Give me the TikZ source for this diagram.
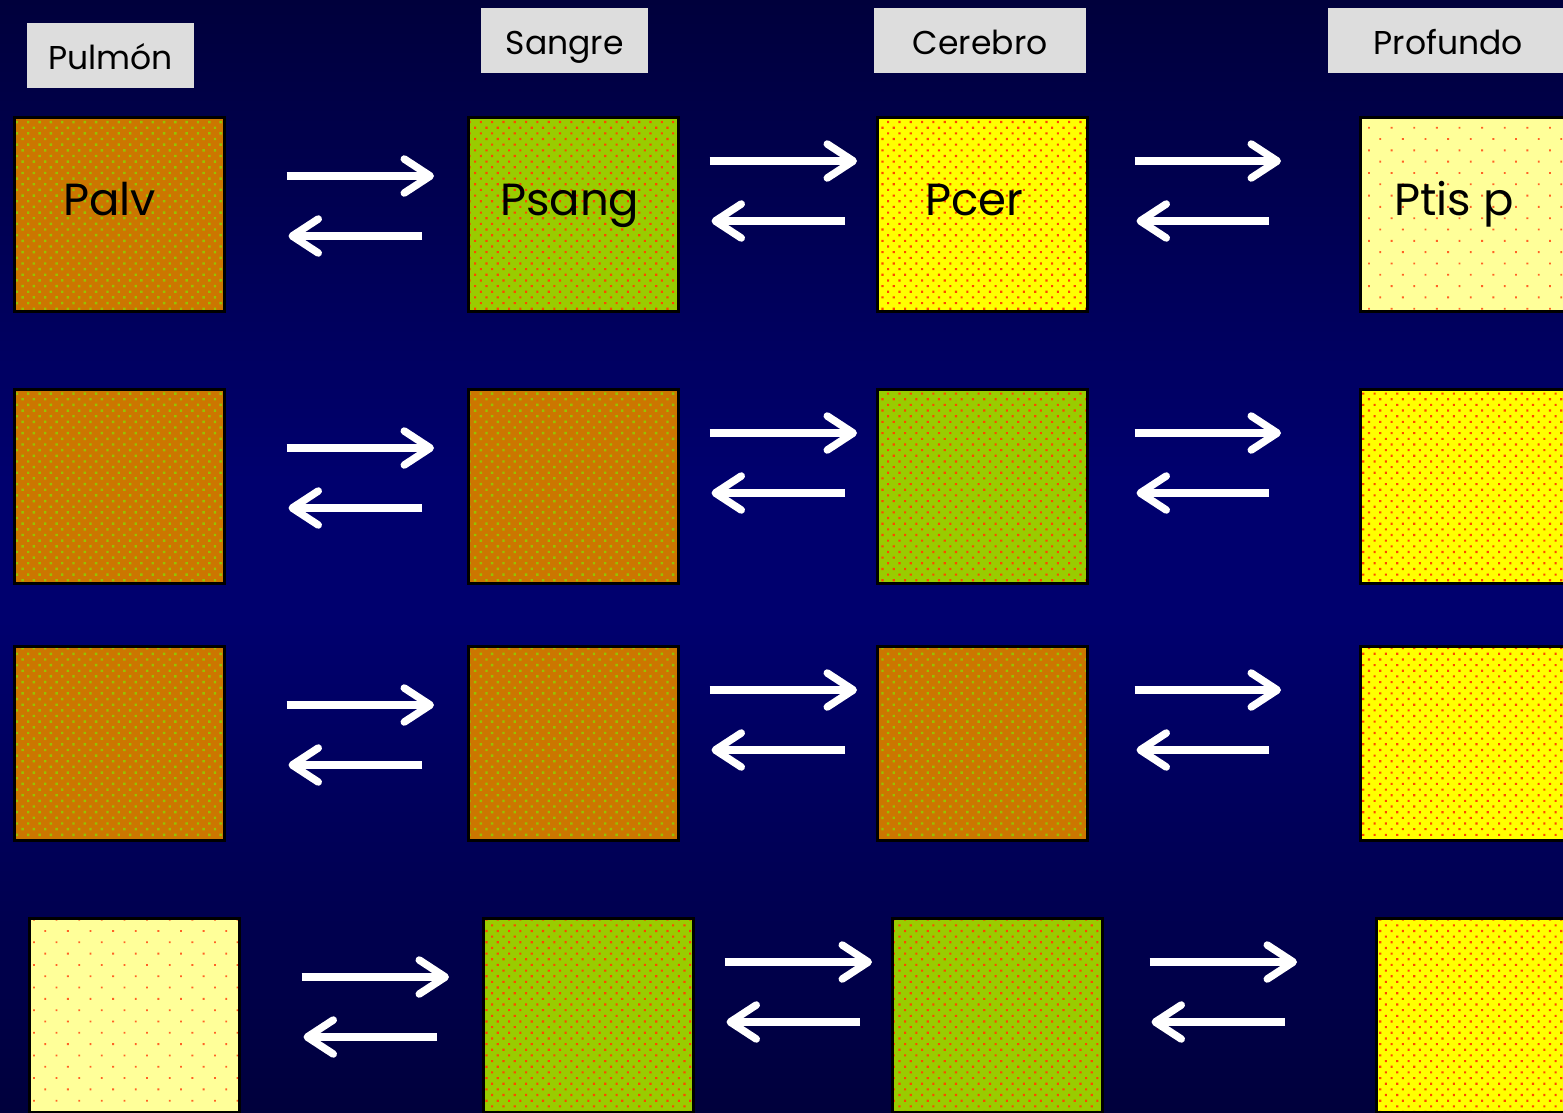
\documentclass[tikz,border=0pt]{standalone}
\usepackage{fontspec}
\setmainfont{Poppins}
\usetikzlibrary{patterns.meta,arrows.meta,calc}

\definecolor{bgdark}{RGB}{0,0,60}
\definecolor{bgmid}{RGB}{0,0,110}
\definecolor{ochre}{RGB}{204,118,0}
\definecolor{lime}{RGB}{153,204,0}
\definecolor{limedot}{RGB}{150,195,0}
\definecolor{reddot}{RGB}{255,70,0}
\definecolor{sun}{RGB}{255,255,0}
\definecolor{cream}{RGB}{255,255,153}
\definecolor{hdrgray}{RGB}{221,221,221}

\tikzset{
  cell/.style={draw=black, line width=2.5pt, minimum width=210pt, minimum height=194pt,
               inner sep=0pt, anchor=north west},
  orangecell/.style={cell, preaction={fill=ochre},
               pattern={Dots[distance=8pt,radius=1.7pt,angle=45]}, pattern color=limedot},
  greencell/.style={cell, preaction={fill=lime},
               pattern={Dots[distance=8pt,radius=1.5pt,angle=45]}, pattern color=reddot},
  yellowcell/.style={cell, preaction={fill=sun},
               pattern={Dots[distance=8pt,radius=1.5pt,angle=45]}, pattern color=reddot},
  creamcell/.style={cell, preaction={fill=cream},
               pattern={Dots[distance=16pt,radius=1.3pt,angle=45]}, pattern color=reddot!85},
  celltext/.style={anchor=base west, inner sep=0pt, font=\fontsize{45}{50}\selectfont, text=black},
  hdr/.style={fill=hdrgray, anchor=north west, inner sep=0pt, minimum height=65pt,
              text height=32pt, text depth=4pt,
              font=\fontsize{33}{38}\selectfont, text=black},
  fwd/.style={white, line width=7.5pt, -{Straight Barb[length=26pt,width=34pt,round]}},
}

\begin{document}
\begin{tikzpicture}[x=1pt,y=-1pt]
  % page frame and backdrop: dark at the edges, brighter blue in the middle band
  \useasboundingbox (0,0) rectangle (1563,1112);
  \clip (0,0) rectangle (1563,1112);
  \shade[top color=bgdark, bottom color=bgmid] (0,0) rectangle (1563,480);
  \fill[bgmid] (0,479) rectangle (1563,621);
  \shade[top color=bgmid, bottom color=bgdark] (0,620) rectangle (1563,1112);

  % column headers
  \node[hdr, minimum width=167pt] (hpul) at (27,23) {Pulmón};
  \node[hdr, minimum width=167pt] (hsan) at (481,8) {Sangre};
  \node[hdr, minimum width=212pt] (hcer) at (874,8) {Cerebro};
  \node[hdr, minimum width=240pt] (hpro) at (1328,8) {Profundo};

  % row 1
  \node[orangecell] (a1) at (13,116) {};
  \node[greencell]  (b1) at (467,116) {};
  \node[yellowcell] (c1) at (876,116) {};
  \node[creamcell]  (d1) at (1359,116) {};
  \node[celltext] (palv)  at ($(a1.north west)+(50,99)$) {Palv};
  \node[celltext] (psang) at ($(b1.north west)+(33,99)$) {Psang};
  \node[celltext] (pcer)  at ($(c1.north west)+(49,99)$) {Pcer};
  \node[celltext] (ptis)  at ($(d1.north west)+(35,99)$) {Ptis p};

  % row 2
  \node[orangecell] (a2) at (13,388) {};
  \node[orangecell] (b2) at (467,388) {};
  \node[greencell]  (c2) at (876,388) {};
  \node[yellowcell] (d2) at (1359,388) {};

  % row 3
  \node[orangecell] (a3) at (13,645) {};
  \node[orangecell] (b3) at (467,645) {};
  \node[orangecell] (c3) at (876,645) {};
  \node[yellowcell] (d3) at (1359,645) {};

  % row 4
  \node[creamcell]  (a4) at (28,917) {};
  \node[greencell]  (b4) at (482,917) {};
  \node[greencell]  (c4) at (891,917) {};
  \node[yellowcell] (d4) at (1375,917) {};

  % exchange arrows between neighbouring compartments
  \foreach \r in {1,2,3,4}{
    \draw[fwd] ($(a\r.north east)+(61,60)$) -- ($(b\r.north west)+(-33,60)$);
    \draw[fwd] ($(b\r.north west)+(-45,120)$) -- ($(a\r.north east)+(63,120)$);
    \draw[fwd] ($(b\r.north east)+(30,45)$) -- ($(c\r.north west)+(-19,45)$);
    \draw[fwd] ($(c\r.north west)+(-31,105)$) -- ($(b\r.north east)+(32,105)$);
    \draw[fwd] ($(c\r.north east)+(46,45)$) -- ($(d\r.north west)+(-78,45)$);
    \draw[fwd] ($(d\r.north west)+(-90,105)$) -- ($(c\r.north east)+(48,105)$);
  }
\end{tikzpicture}
\end{document}
